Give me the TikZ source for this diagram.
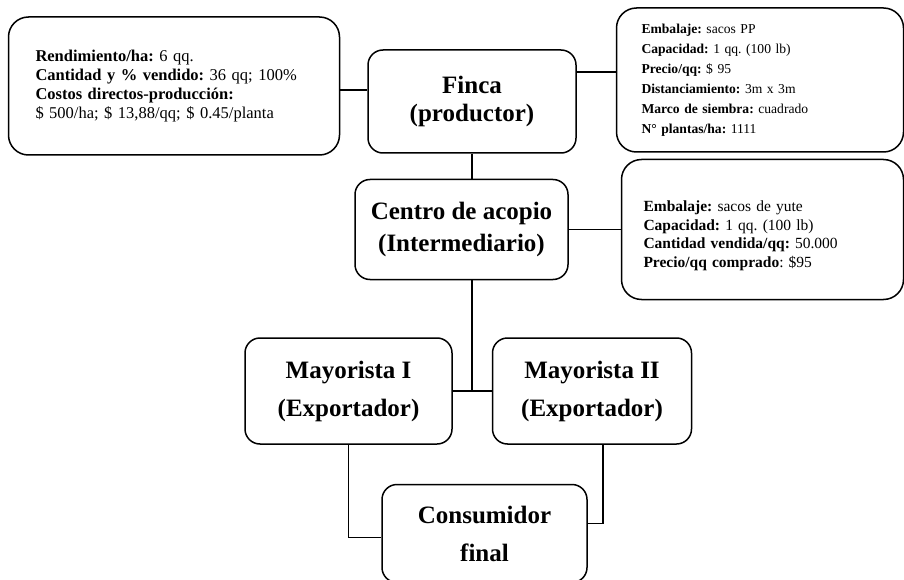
\documentclass[tikz,border=0pt]{standalone}
\usepackage{fontspec}
\setmainfont{Liberation Serif}
\usetikzlibrary{positioning}

\newcommand{\tituloletra}[1]{\fontsize{25}{#1}\selectfont\bfseries}
\frenchspacing

\tikzset{
  caja/.style={draw, line width=1.5pt, rounded corners=15pt, align=center},
  ficha/.style={draw, line width=1.5pt, rounded corners=20pt, align=left},
  enlace/.style={line width=1.5pt},
}

\begin{document}
\begin{tikzpicture}[x=1pt, y=1pt]
    \useasboundingbox (0,0) rectangle (904,-580);
    % productor en el centro de arriba
    \node [caja, minimum width=208pt, minimum height=103pt, font=\tituloletra{28}]
      (finca) at (472,-101.5) {Finca\\(productor)};
    % fichas de datos de la finca
    \node [ficha, left=27pt of finca, yshift=15.5pt, minimum height=138pt,
      inner xsep=27pt, text width=277pt, font=\fontsize{16.5}{19}\selectfont] (rend)
      {\textbf{Rendimiento/ha:} 6 qq.\\
       \textbf{Cantidad y \% vendido:} 36 qq; 100\%\\
       \textbf{Costos directos-producción:}\\
       \$ 500/ha; \$ 13,88/qq; \$ 0.45/planta};
    \node [ficha, right=39pt of finca, yshift=21.5pt, minimum height=144pt,
      inner xsep=25pt, text width=237pt, font=\fontsize{13.6}{20}\selectfont] (embfinca)
      {\textbf{Embalaje:} sacos PP\\
       \textbf{Capacidad:} 1 qq. (100 lb)\\
       \textbf{Precio/qq:} \$ 95\\
       \textbf{Distanciamiento:} 3m x 3m\\
       \textbf{Marco de siembra:} cuadrado\\
       \textbf{N° plantas/ha:} 1111};
    % intermediario y su ficha
    \node [caja, below=25pt of finca, xshift=-10.5pt, minimum width=213pt,
      minimum height=100pt, font=\tituloletra{32}] (centro)
      {Centro de acopio\\(Intermediario)};
    \node [ficha, right=52pt of centro, minimum height=140pt, text height=23pt,
      inner xsep=22pt, text width=238pt, font=\fontsize{15.5}{18.5}\selectfont] (embcentro)
      {\textbf{Embalaje:} sacos de yute\\
       \textbf{Capacidad:} 1 qq. (100 lb)\\
       \textbf{Cantidad vendida/qq:} 50.000\\
       \textbf{Precio/qq comprado}: \$95};
    % mayoristas y consumidor
    \node [caja, below=57pt of centro, xshift=-113pt, minimum width=207pt,
      minimum height=106pt, font=\tituloletra{38}] (may1)
      {Mayorista I\\(Exportador)};
    \node [caja, right=39pt of may1, minimum width=199pt,
      minimum height=106pt, font=\tituloletra{38}] (may2)
      {Mayorista II\\(Exportador)};
    \node [caja, below=39pt of may1, xshift=136pt, minimum width=205pt,
      minimum height=98pt, font=\tituloletra{38}] (cons)
      {Consumidor\\final};

    % conexiones
    \draw [enlace] ([yshift=-4pt]rend.east) -- ([yshift=-4pt]rend.east -| finca.west);
    \draw [enlace] ([yshift=8pt]embfinca.west -| finca.east) -- ([yshift=8pt]embfinca.west);
    \draw [enlace] (finca.south) -- (finca.south |- centro.north);
    \draw [enlace] (centro.east) -- (centro.east -| embcentro.west);
    \draw [enlace] (finca.south |- centro.south) -- (finca.south |- may1.east);
    \draw [enlace] (may1.east) -- (may2.west);
    \draw [enlace] (may1.south) |- ([yshift=-4pt]cons.west);
    \draw [enlace] ([xshift=11pt]may2.south) |- ([yshift=10pt]cons.east);
\end{tikzpicture}
\end{document}
